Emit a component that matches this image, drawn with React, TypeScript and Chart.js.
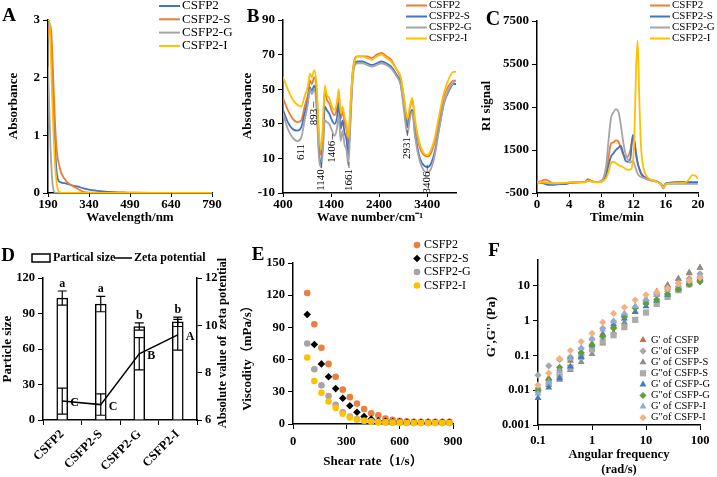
import React, { useEffect, useRef } from 'react';
import { Chart, registerables } from 'chart.js';

Chart.register(...registerables);

const SERIF = "'Liberation Serif', 'Times New Roman', 'Noto Sans CJK SC', serif";
const BLUE = '#4472C4';
const ORANGE = '#ED7D31';
const GRAY = '#A5A5A5';
const YELLOW = '#FFC000';

// ===== Panel A: UV absorbance =====
const aLabels = ['CSFP2', 'CSFP2-S', 'CSFP2-G', 'CSFP2-I'];
const aWavelength = [190, 195, 200, 205, 210, 215, 220, 225, 230, 235, 240, 250, 260, 280, 300, 320, 350, 400, 450, 480, 500, 600, 700, 790];
const aCSFP2 = [3.0, 2.95, 2.7, 2.2, 1.5, 0.9, 0.45, 0.26, 0.2, 0.19, 0.18, 0.17, 0.16, 0.13, 0.11, 0.08, 0.05, 0.025, 0.012, 0.008, 0.005, 0.003, 0.002, 0.002];
const aCSFP2S = [2.7, 2.88, 2.9, 2.5, 1.9, 1.3, 0.85, 0.62, 0.5, 0.4, 0.33, 0.25, 0.19, 0.12, 0.07, 0.02, 0.005, 0, 0, 0, 0, 0, 0, 0];
const aCSFP2G = [2.2, 1.4, 0.7, 0.25, 0.05, 0.01, 0, 0, 0, 0, 0, 0, 0, 0, 0, 0, 0, 0, 0, 0, 0, 0, 0, 0];
const aCSFP2I = [3.0, 3.0, 2.4, 1.7, 1.05, 0.55, 0.25, 0.08, 0.02, 0.01, 0, 0, 0, 0, 0, 0, 0, 0, 0, 0, 0, 0, 0, 0];

// ===== Panel B: FTIR =====
const bLabels = ['CSFP2', 'CSFP2-S', 'CSFP2-G', 'CSFP2-I'];
const bWave = [400, 500, 600, 700, 780, 850, 920, 960, 1000, 1050, 1100, 1150, 1190, 1230, 1270, 1310, 1360, 1420, 1470, 1520, 1560, 1600, 1640, 1680, 1720, 1760, 1800, 1850, 1900, 1950, 2050, 2150, 2250, 2350, 2450, 2550, 2650, 2750, 2850, 2920, 2990, 3040, 3090, 3150, 3250, 3330, 3410, 3480, 3560, 3650, 3750, 3850, 3950, 4000];
const bCSFP2 = [45, 38, 33, 31, 32, 40, 47, 55, 53, 57, 48, 20, 12, 26, 50, 44, 42, 37, 35, 39, 48, 33, 37, 31, 27, 18, 37, 60, 68, 69, 69, 69, 68, 70, 71, 69, 67, 62, 56, 44, 30, 39, 44, 30, 16, 12, 11, 13, 20, 33, 46, 52, 55, 55];
const bCSFP2S = [38, 31, 27, 26, 28, 36, 44, 51, 49, 52, 42, 14, 7, 18, 40, 38, 36, 32, 30, 33, 42, 27, 32, 25, 21, 12, 32, 58, 65, 66, 66, 65, 64, 65, 66, 65, 63, 59, 53, 40, 28, 35, 38, 24, 10, 6, 5, 7, 14, 28, 42, 49, 53, 53];
const bCSFP2G = [36, 27, 22, 20, 22, 32, 42, 50, 47, 50, 38, 10, 5, 14, 32, 31, 30, 26, 23, 27, 35, 20, 26, 18, 15, 6, 28, 56, 64, 65, 65, 64, 63, 64, 65, 64, 62, 58, 52, 37, 24, 33, 37, 22, 8, 3, 2, 4, 12, 27, 42, 50, 54, 55];
const bCSFP2I = [57, 50, 44, 41, 40, 46, 52, 59, 57, 61, 52, 25, 15, 30, 52, 47, 45, 40, 38, 42, 50, 36, 40, 34, 30, 22, 40, 60, 67, 69, 69, 68, 67, 69, 70, 68, 66, 62, 57, 45, 33, 40, 45, 32, 18, 13, 12, 15, 22, 35, 48, 56, 60, 60];
const bTicks = [400, 1400, 2400, 3400];
const bPeakLabels = ['611', '893', '1140', '1406', '1661', '2931', '3406'];
const bPeakX = [782, 1037, 1203, 1430, 1773, 2987, 3402];
const bPeakY = [13.7, 34, -2.5, 13.9, -2.5, 16, -4];

// ===== Panel C: RI signal =====
const cLabels = ['CSFP2', 'CSFP2-S', 'CSFP2-G', 'CSFP2-I'];
const cTime = [0, 0.5, 1, 1.5, 2, 2.5, 3, 3.5, 4, 5, 6, 6.3, 6.6, 7, 7.5, 8, 8.3, 8.6, 8.9, 9.2, 9.5, 9.8, 10.1, 10.4, 10.7, 11, 11.3, 11.6, 11.9, 12.1, 12.3, 12.5, 12.7, 12.9, 13.2, 13.6, 14, 14.5, 15, 15.4, 15.7, 16, 16.5, 17, 18, 18.5, 19, 19.3, 19.7, 20];
const cCSFP2 = [0, 50, 120, 60, -80, -100, -60, -50, -30, 0, 20, 150, 100, 30, 20, 50, 150, 400, 1200, 1800, 1850, 1950, 1900, 1600, 1300, 1150, 1200, 1500, 2100, 1900, 1400, 900, 600, 400, 250, 150, 100, 60, 0, -100, -250, -50, -20, -10, 0, 0, 0, 0, 0, 0];
const cCSFP2S = [0, -30, -80, -120, -120, -100, -90, -90, -40, 0, 20, 100, 80, 20, 10, 40, 120, 300, 800, 1200, 1350, 1500, 1600, 1700, 1350, 1000, 950, 1100, 2200, 1900, 1300, 900, 650, 450, 300, 200, 120, 80, 20, -80, -200, -60, -30, -10, 0, 0, -10, -10, -10, -10];
const cCSFP2G = [0, 0, -20, -50, -60, -60, -40, -30, -20, 0, 0, 50, 50, 20, 10, 60, 250, 800, 2000, 3000, 3250, 3400, 3300, 2700, 1900, 1300, 1050, 900, 1000, 850, 600, 400, 300, 250, 200, 150, 100, 60, 0, -100, -300, -100, -80, -80, -80, -80, -80, -80, -80, -80];
const cCSFP2I = [0, 0, -10, -30, -40, -40, -30, -20, -10, 0, 10, 80, 60, 10, 0, 20, 80, 200, 500, 900, 950, 900, 800, 750, 700, 620, 580, 600, 900, 2200, 5200, 6600, 4000, 1800, 700, 300, 150, 80, 0, -100, -250, -80, -50, -40, -30, 0, 200, 330, 300, 150];

// ===== Panel D: particle size & zeta =====
const dCategories = ['CSFP2', 'CSFP2-S', 'CSFP2-G', 'CSFP2-I'];
const dSize = [103, 98, 79, 83];
const dSizeErr = [6, 6.5, 3, 4];
const dZeta = [6.8, 6.65, 8.8, 9.6];
const dZetaErr = [0.55, 0.45, 0.68, 0.65];
const dSizeLetters = ['a', 'a', 'b', 'b'];
const dZetaLetters = ['C', 'C', 'B', 'A'];

// ===== Panel E: viscosity =====
const eLabels = ['CSFP2', 'CSFP2-S', 'CSFP2-G', 'CSFP2-I'];
const eShear = [80, 120, 160, 200, 240, 280, 320, 360, 400, 440, 480, 520, 560, 600, 640, 680, 720, 760, 800, 840, 880];
const eCSFP2 = [122, 93, 71, 56, 44, 32, 25, 19, 14, 10, 8, 5, 4, 3, 2.5, 2, 2, 2, 2, 2, 2];
const eCSFP2S = [102, 74, 56, 44, 33, 24, 17, 11, 7, 4.5, 3, 2.5, 2, 2, 1.5, 1.5, 1.5, 1.5, 1.5, 1.5, 1.5];
const eCSFP2G = [75, 51, 36, 26, 18, 11, 7, 4.5, 3, 2.5, 2, 1.5, 1.5, 1.5, 1, 1, 1, 1, 1, 1, 1];
const eCSFP2I = [62, 40, 29, 21, 15, 9.5, 6, 4, 3, 2, 1.5, 1.5, 1, 1, 1, 1, 1, 1, 1, 1, 1];

// ===== Panel F: moduli =====
const fLabels = ["G' of CSFP", 'G"of CSFP', "G' of CSFP-S", 'G"of CSFP-S', "G' of CSFP-G", 'G"of CSFP-G', "G' of CSFP-I", 'G"of CSFP-I'];
const fFreq = [0.1, 0.158, 0.251, 0.398, 0.631, 1, 1.58, 2.51, 3.98, 6.31, 10, 15.8, 25.1, 39.8, 63.1, 100];
const fG1CSFP = [0.012, 0.022, 0.04, 0.07, 0.12, 0.22, 0.42, 0.8, 1.4, 2.5, 4.2, 6.8, 10.5, 16, 23, 33];
const fG2CSFP = [0.027, 0.05, 0.075, 0.09, 0.16, 0.3, 0.6, 0.95, 1.5, 2.4, 3.8, 5.5, 8, 12, 16, 22];
const fG1CSFPS = [0.01, 0.014, 0.02, 0.038, 0.065, 0.11, 0.22, 0.45, 0.9, 1.8, 3.2, 5.5, 10, 16, 24, 33];
const fG2CSFPS = [0.01, 0.016, 0.025, 0.045, 0.09, 0.15, 0.25, 0.38, 0.65, 1.05, 1.7, 3.0, 4.8, 7.5, 11, 15];
const fG1CSFPG = [0.006, 0.012, 0.022, 0.048, 0.09, 0.2, 0.38, 0.7, 1.15, 1.75, 2.6, 3.8, 5.5, 8, 11.5, 16];
const fG2CSFPG = [0.01, 0.02, 0.045, 0.08, 0.12, 0.2, 0.35, 0.6, 1.3, 2.3, 3.2, 4.0, 5.8, 8, 11, 13];
const fG1CSFPI = [0.008, 0.017, 0.035, 0.08, 0.16, 0.3, 0.55, 0.95, 1.6, 2.6, 4.0, 5.5, 7.5, 10.5, 14.5, 20];
const fG2CSFPI = [0.014, 0.031, 0.081, 0.138, 0.25, 0.43, 0.9, 1.6, 2.4, 3.9, 5.5, 6.5, 8.5, 11.5, 14, 17];
const fYTicks = [0.001, 0.01, 0.1, 1, 10];
const fXTicks = [0.1, 1, 10, 100];

// ===== helpers =====
const fixW = (w: number) => (s: any) => { s.width = w; };
const fixH = (h: number) => (s: any) => { s.height = h; };
const setTicks = (vals: number[]) => (s: any) => { s.ticks = vals.map((v) => ({ value: v })); };

function axis(o: any) {
  return {
    type: o.type ?? 'linear',
    position: o.position,
    min: o.min,
    max: o.max,
    offset: false,
    afterFit: o.afterFit,
    afterBuildTicks: o.afterBuildTicks,
    grid: { display: true, drawOnChartArea: false, drawTicks: true, tickLength: o.tl ?? 5, color: '#000', lineWidth: 1 },
    border: { display: true, color: '#000', width: 1.5 },
    ticks: {
      stepSize: o.step,
      color: '#000',
      font: { family: SERIF, size: o.size ?? 13, weight: 'bold' },
      padding: o.pad ?? 3,
      autoSkip: false,
      maxRotation: 0,
      minRotation: 0,
      callback: (v: any) => String(v),
    },
    title: { display: false },
  };
}

function common(top: number, right: number) {
  return {
    responsive: false,
    animation: false,
    devicePixelRatio: 1,
    events: [],
    layout: { padding: { top, right, left: 0, bottom: 0 } },
    plugins: { legend: { display: false }, tooltip: { enabled: false } },
  };
}

type TItem = { t: string; x: number; y: number; rot?: number; size?: number; bold?: boolean; align?: CanvasTextAlign };
function textPlugin(items: TItem[]) {
  return {
    id: 'texts',
    afterDraw(chart: any) {
      const ctx = chart.ctx as CanvasRenderingContext2D;
      for (const it of items) {
        ctx.save();
        ctx.translate(it.x, it.y);
        if (it.rot) ctx.rotate((it.rot * Math.PI) / 180);
        ctx.font = `${it.bold === false ? '' : 'bold '}${it.size ?? 13}px ${SERIF}`;
        ctx.fillStyle = '#000';
        ctx.textAlign = it.align ?? 'center';
        ctx.textBaseline = 'middle';
        ctx.fillText(it.t, 0, 0);
        ctx.restore();
      }
    },
  };
}

function lineLegend(x: number, y: number, gap: number, len: number, size: number) {
  return {
    id: 'lineLegend',
    afterDraw(chart: any) {
      const ctx = chart.ctx as CanvasRenderingContext2D;
      ctx.save();
      chart.data.datasets.forEach((ds: any, i: number) => {
        const yy = y + i * gap;
        ctx.strokeStyle = ds.borderColor;
        ctx.lineWidth = 2;
        ctx.beginPath();
        ctx.moveTo(x, yy);
        ctx.lineTo(x + len, yy);
        ctx.stroke();
        ctx.fillStyle = '#000';
        ctx.font = `${size}px ${SERIF}`;
        ctx.textAlign = 'left';
        ctx.textBaseline = 'middle';
        ctx.fillText(ds.label, x + len + 2, yy);
      });
      ctx.restore();
    },
  };
}

function marker(ctx: CanvasRenderingContext2D, style: string, x: number, y: number, r: number, color: string) {
  ctx.fillStyle = color;
  ctx.beginPath();
  if (style === 'circle') ctx.arc(x, y, r, 0, Math.PI * 2);
  else if (style === 'rectRot') {
    ctx.moveTo(x, y - r); ctx.lineTo(x + r, y); ctx.lineTo(x, y + r); ctx.lineTo(x - r, y); ctx.closePath();
  } else if (style === 'rect') {
    const s = r * Math.SQRT1_2;
    ctx.rect(x - s, y - s, 2 * s, 2 * s);
  } else {
    let a = 0;
    ctx.moveTo(x + Math.sin(a) * r, y - Math.cos(a) * r);
    a += (2 * Math.PI) / 3;
    ctx.lineTo(x + Math.sin(a) * r, y - Math.cos(a) * r);
    a += (2 * Math.PI) / 3;
    ctx.lineTo(x + Math.sin(a) * r, y - Math.cos(a) * r);
    ctx.closePath();
  }
  ctx.fill();
}

function pointLegend(x: number, tx: number, y: number, gap: number, size: number) {
  return {
    id: 'pointLegend',
    afterDraw(chart: any) {
      const ctx = chart.ctx as CanvasRenderingContext2D;
      ctx.save();
      chart.data.datasets.forEach((ds: any, i: number) => {
        const yy = y + i * gap;
        marker(ctx, ds.pointStyle, x, yy, ds.pointRadius, ds.backgroundColor);
        ctx.fillStyle = '#000';
        ctx.font = `${size}px ${SERIF}`;
        ctx.textAlign = 'left';
        ctx.textBaseline = 'middle';
        ctx.fillText(ds.label, tx, yy);
      });
      ctx.restore();
    },
  };
}

function lineSets(labels: string[], xs: number[], series: number[][], colors: string[]) {
  return labels.map((label, i) => ({
    label,
    data: xs.map((x, j) => ({ x, y: series[i][j] })),
    borderColor: colors[i],
    backgroundColor: colors[i],
    borderWidth: 1.8,
    pointRadius: 0,
    fill: false,
    cubicInterpolationMode: 'monotone',
    order: labels.length - i,
  }));
}

// ===== chart configs =====
function makeA() {
  return {
    type: 'line',
    data: { datasets: lineSets(aLabels, aWavelength, [aCSFP2, aCSFP2S, aCSFP2G, aCSFP2I], [BLUE, ORANGE, GRAY, YELLOW]) },
    options: {
      ...common(20, 23),
      scales: {
        x: axis({ min: 190, max: 790, step: 150, afterFit: fixH(32), tl: 4, pad: 0 }),
        y: axis({ min: 0, max: 3, step: 1, afterFit: fixW(48) }),
      },
    },
    plugins: [
      lineLegend(159, 6, 13.3, 21, 13),
      textPlugin([
        { t: 'A', x: 9, y: 16, size: 19 },
        { t: 'Absorbance', x: 14, y: 106, rot: -90 },
        { t: 'Wavelength/nm', x: 130, y: 218 },
      ]),
    ],
  };
}

function makeB() {
  const peaks = {
    id: 'peaks',
    afterDatasetsDraw(chart: any) {
      const ctx = chart.ctx as CanvasRenderingContext2D;
      const xs = chart.scales.x, ys = chart.scales.y;
      ctx.save();
      ctx.font = `11px ${SERIF}`;
      ctx.fillStyle = '#000';
      ctx.strokeStyle = '#404040';
      ctx.lineWidth = 0.8;
      bPeakLabels.forEach((t, i) => {
        const px = xs.getPixelForValue(bPeakX[i]);
        const py = ys.getPixelForValue(bPeakY[i]);
        const half = ctx.measureText(t).width / 2;
        if (i > 0) {
          ctx.beginPath();
          ctx.moveTo(px, py - half - 1);
          ctx.lineTo(px, py - half - 7);
          ctx.stroke();
        }
        ctx.save();
        ctx.translate(px, py);
        ctx.rotate(-Math.PI / 2);
        ctx.textAlign = 'center';
        ctx.textBaseline = 'middle';
        ctx.fillText(t, 0, 0);
        ctx.restore();
      });
      ctx.restore();
    },
  };
  return {
    type: 'line',
    data: { datasets: lineSets(bLabels, bWave, [bCSFP2, bCSFP2S, bCSFP2G, bCSFP2I], [ORANGE, BLUE, GRAY, YELLOW]) },
    options: {
      ...common(20, 24),
      scales: {
        x: axis({ min: 400, max: 4000, afterFit: fixH(32), afterBuildTicks: setTicks(bTicks), tl: 4, pad: 0 }),
        y: axis({ min: -10, max: 90, step: 20, afterFit: fixW(48) }),
      },
    },
    plugins: [
      peaks,
      lineLegend(171, 5.5, 11, 21, 11),
      textPlugin([
        { t: 'B', x: 18, y: 17, size: 19 },
        { t: 'Absorbance', x: 13, y: 106, rot: -90 },
        { t: 'Wave number/cm⁻¹', x: 135, y: 218 },
      ]),
    ],
  };
}

function makeC() {
  return {
    type: 'line',
    data: { datasets: lineSets(cLabels, cTime, [cCSFP2, cCSFP2S, cCSFP2G, cCSFP2I], [ORANGE, BLUE, GRAY, YELLOW]) },
    options: {
      ...common(21, 19),
      scales: {
        x: axis({ min: 0, max: 20, step: 4, afterFit: fixH(32), tl: 4, pad: 0 }),
        y: axis({ min: -500, max: 7500, step: 2000, afterFit: fixW(67) }),
      },
    },
    plugins: [
      lineLegend(180, 5.5, 11, 20, 11),
      textPlugin([
        { t: 'C', x: 23, y: 20, size: 20 },
        { t: 'RI signal', x: 17, y: 106, rot: -90 },
        { t: 'Time/min', x: 147, y: 218 },
      ]),
    ],
  };
}

function makeD() {
  const extras = {
    id: 'dExtras',
    afterDatasetsDraw(chart: any) {
      const ctx = chart.ctx as CanvasRenderingContext2D;
      const xs = chart.scales.x, ys = chart.scales.y, y1 = chart.scales.y1;
      ctx.save();
      ctx.strokeStyle = '#000';
      ctx.lineWidth = 1.2;
      const cap = 4.5;
      const eb = (px: number, a: number, b: number) => {
        ctx.beginPath();
        ctx.moveTo(px, a); ctx.lineTo(px, b);
        ctx.moveTo(px - cap, a); ctx.lineTo(px + cap, a);
        ctx.moveTo(px - cap, b); ctx.lineTo(px + cap, b);
        ctx.stroke();
      };
      dCategories.forEach((_, i) => {
        const px = xs.getPixelForValue(i);
        eb(px, ys.getPixelForValue(dSize[i] - dSizeErr[i]), ys.getPixelForValue(dSize[i] + dSizeErr[i]));
        eb(px, y1.getPixelForValue(dZeta[i] - dZetaErr[i]), y1.getPixelForValue(dZeta[i] + dZetaErr[i]));
        ctx.fillStyle = '#000';
        ctx.font = `bold 12px ${SERIF}`;
        ctx.textAlign = 'center';
        ctx.textBaseline = 'alphabetic';
        ctx.fillText(dSizeLetters[i], px, ys.getPixelForValue(dSize[i] + dSizeErr[i]) - 4);
        ctx.textAlign = 'left';
        ctx.textBaseline = 'middle';
        ctx.fillText(dZetaLetters[i], px + 8, y1.getPixelForValue(dZeta[i]) + 2);
      });
      ctx.restore();
    },
  };
  const legend = {
    id: 'dLegend',
    afterDraw(chart: any) {
      const ctx = chart.ctx as CanvasRenderingContext2D;
      ctx.save();
      ctx.fillStyle = '#fff';
      ctx.strokeStyle = '#000';
      ctx.lineWidth = 1.5;
      ctx.fillRect(32, 29, 18, 8);
      ctx.strokeRect(32, 29, 18, 8);
      ctx.beginPath();
      ctx.moveTo(114, 33);
      ctx.lineTo(132, 33);
      ctx.stroke();
      ctx.fillStyle = '#000';
      ctx.font = `bold 12px ${SERIF}`;
      ctx.textAlign = 'left';
      ctx.textBaseline = 'middle';
      ctx.fillText('Partical size', 53, 33);
      ctx.fillText('Zeta potential', 134, 33);
      ctx.restore();
    },
  };
  const xAxis: any = axis({ type: 'category', afterFit: fixH(57), size: 12.5 });
  xAxis.grid = { ...xAxis.grid, offset: true };
  xAxis.offset = true;
  xAxis.ticks = { ...xAxis.ticks, minRotation: 45, maxRotation: 45, padding: 2 };
  delete xAxis.ticks.callback;
  return {
    type: 'bar',
    data: {
      labels: dCategories,
      datasets: [
        {
          type: 'bar',
          label: 'Partical size',
          data: dSize,
          backgroundColor: '#fff',
          borderColor: '#000',
          borderWidth: 1.5,
          barThickness: 11,
          yAxisID: 'y',
          order: 2,
        },
        {
          type: 'line',
          label: 'Zeta potential',
          data: dZeta,
          borderColor: '#000',
          borderWidth: 1.5,
          pointRadius: 0,
          tension: 0,
          yAxisID: 'y1',
          order: 1,
        },
      ],
    },
    options: {
      ...common(53, 0),
      scales: {
        x: xAxis,
        y: axis({ min: 0, max: 120, step: 30, afterFit: fixW(43), size: 12.5 }),
        y1: axis({ position: 'right', min: 6, max: 12, step: 2, afterFit: fixW(38), size: 12.5 }),
      },
    },
    plugins: [
      extras,
      legend,
      textPlugin([
        { t: 'D', x: 8, y: 31, size: 19 },
        { t: 'Particle size', x: 8, y: 124, rot: -90 },
        { t: 'Absolute value of  zeta potential', x: 223, y: 118, rot: -90, size: 12.5 },
      ]),
    ],
  };
}

function makeE() {
  const series = [eCSFP2, eCSFP2S, eCSFP2G, eCSFP2I];
  const colors = ['#EB7F3E', '#000000', GRAY, YELLOW];
  const styles = ['circle', 'rectRot', 'circle', 'circle'];
  const radii = [3.3, 3.8, 3.3, 3.3];
  return {
    type: 'scatter',
    data: {
      datasets: eLabels.map((label, i) => ({
        label,
        data: eShear.map((x, j) => ({ x, y: series[i][j] })),
        backgroundColor: colors[i],
        borderColor: colors[i],
        borderWidth: 0,
        pointStyle: styles[i],
        pointRadius: radii[i],
        clip: false,
        order: eLabels.length - i,
      })),
    },
    options: {
      ...common(38, 17),
      scales: {
        x: axis({ min: 0, max: 900, step: 300, afterFit: fixH(53), size: 12.5, pad: 5 }),
        y: axis({ min: 0, max: 150, step: 30, afterFit: fixW(58), size: 12.5 }),
      },
    },
    plugins: [
      pointLegend(182, 189, 20, 13.5, 12),
      textPlugin([
        { t: 'E', x: 23, y: 30, size: 19 },
        { t: 'Viscodity（mPa/s）', x: 13, y: 130, rot: -90 },
        { t: 'Shear rate（1/s）', x: 138, y: 237 },
      ]),
    ],
  };
}

function makeF() {
  const series = [fG1CSFP, fG2CSFP, fG1CSFPS, fG2CSFPS, fG1CSFPG, fG2CSFPG, fG1CSFPI, fG2CSFPI];
  const colors = ['#C9703A', '#A8A8A8', '#8E8E8E', '#ABABAB', '#3F7CC4', '#5E9E3E', '#8FAADC', '#F4B183'];
  const styles = ['triangle', 'rectRot', 'triangle', 'rect', 'triangle', 'rectRot', 'triangle', 'rectRot'];
  const radii = [4, 3.6, 4, 4.4, 4, 3.6, 4, 3.6];
  const xAx: any = axis({ type: 'logarithmic', min: 0.1, max: 100, afterFit: fixH(52), size: 12.5, afterBuildTicks: setTicks(fXTicks) });
  const yAx: any = axis({ type: 'logarithmic', min: 0.001, max: 55, afterFit: fixW(68), size: 12.5, afterBuildTicks: setTicks(fYTicks) });
  return {
    type: 'scatter',
    data: {
      datasets: fLabels.map((label, i) => ({
        label,
        data: fFreq.map((x, j) => ({ x, y: series[i][j] })),
        backgroundColor: colors[i],
        borderColor: colors[i],
        borderWidth: 0,
        pointStyle: styles[i],
        pointRadius: radii[i],
        clip: false,
        order: fLabels.length - i,
      })),
    },
    options: {
      ...common(35, 17),
      scales: { x: xAx, y: yAx },
    },
    plugins: [
      pointLegend(173, 181, 115, 11.1, 10.5),
      textPlugin([
        { t: 'F', x: 24, y: 26, size: 19 },
        { t: "G',G'' (Pa)", x: 22, y: 102, rot: -90 },
        { t: 'Angular frequency', x: 149, y: 230, size: 12.5 },
        { t: '(rad/s)', x: 149, y: 245, size: 12.5 },
      ]),
    ],
  };
}

function Panel({ x, y, w, h, make }: { x: number; y: number; w: number; h: number; make: () => any }) {
  const ref = useRef<HTMLCanvasElement | null>(null);
  useEffect(() => {
    if (!ref.current) return;
    const chart = new Chart(ref.current, make());
    return () => chart.destroy();
  }, []);
  return <canvas ref={ref} width={w} height={h} style={{ position: 'absolute', left: x, top: y, width: w, height: h }} />;
}

export default function App() {
  return (
    <div style={{ position: 'absolute', left: 0, top: 0, width: 717, height: 477, background: '#fff', overflow: 'hidden' }}>
      <Panel x={0} y={0} w={235} h={225} make={makeA} />
      <Panel x={235} y={0} w={245} h={225} make={makeB} />
      <Panel x={470} y={0} w={247} h={225} make={makeC} />
      <Panel x={0} y={225} w={235} h={252} make={makeD} />
      <Panel x={235} y={225} w={235} h={252} make={makeE} />
      <Panel x={470} y={225} w={247} h={252} make={makeF} />
    </div>
  );
}
